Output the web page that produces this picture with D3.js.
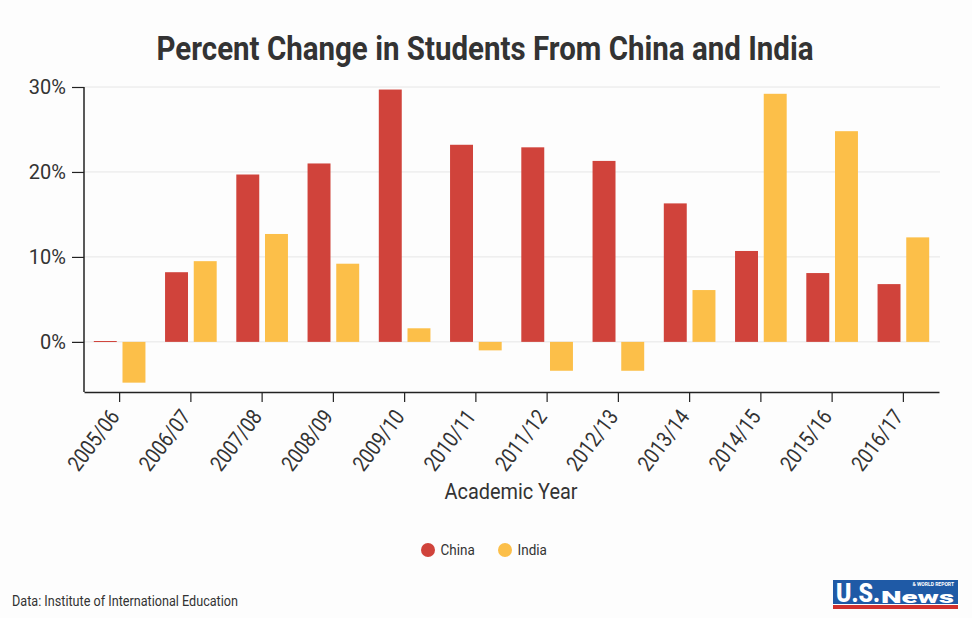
<!DOCTYPE html>
<html>
<head>
<meta charset="utf-8">
<script src="https://cdn.jsdelivr.net/npm/d3@7"></script>
<style>
  body { margin: 0; background: #fdfdfd; }
  svg { display: block; }
  text { font-family: "Roboto", sans-serif; }
</style>
</head>
<body>
<div id="chart"></div>
<script>
const years = ["2005/06", "2006/07", "2007/08", "2008/09", "2009/10", "2010/11",
  "2011/12", "2012/13", "2013/14", "2014/15", "2015/16", "2016/17"];
const series = ["China", "India"];
const china = [0.1, 8.2, 19.7, 21.0, 29.7, 23.2, 22.9, 21.3, 16.3, 10.7, 8.1, 6.8];
const india = [-4.8, 9.5, 12.7, 9.2, 1.6, -1.0, -3.4, -3.4, 6.1, 29.2, 24.8, 12.3];
const yTicks = [0, 10, 20, 30];

const width = 972, height = 618;
const colors = { China: "#d0433b", India: "#fcbf49" };

const svg = d3.select("#chart").append("svg")
  .attr("width", width)
  .attr("height", height);

svg.append("rect").attr("width", width).attr("height", height).attr("fill", "#fdfdfd");

const rows = years.map((y, i) => ({ year: y, China: china[i], India: india[i] }));

const x0 = d3.scaleBand().domain(years).range([84, 939]);
const x1 = d3.scaleBand().domain(series)
  .range([9.8, x0.bandwidth() - 9.8])
  .paddingInner(0.2);
const y = d3.scaleLinear().domain([-5.9, 30]).range([392, 87]);

// gridlines
svg.append("g")
  .selectAll("line")
  .data(yTicks)
  .join("line")
  .attr("x1", 84).attr("x2", 940)
  .attr("y1", d => y(d)).attr("y2", d => y(d))
  .attr("stroke", "#e6e6e6")
  .attr("stroke-width", 1);

// bars
svg.append("g")
  .selectAll("g")
  .data(rows)
  .join("g")
  .attr("transform", d => `translate(${x0(d.year)},0)`)
  .selectAll("rect")
  .data(d => series.map(s => ({ key: s, value: d[s] })))
  .join("rect")
  .attr("x", d => x1(d.key))
  .attr("width", x1.bandwidth())
  .attr("y", d => y(Math.max(0, d.value)))
  .attr("height", d => Math.max(1, Math.abs(y(d.value) - y(0))))
  .attr("fill", d => colors[d.key]);

// y axis
const yAxis = svg.append("g")
  .attr("transform", "translate(84,0)")
  .call(d3.axisLeft(y).tickValues(yTicks).tickSize(12).tickPadding(6).tickFormat(d => d + "%"));
yAxis.select(".domain").attr("d", `M0,${y(30)}V392`).attr("stroke", "#222").attr("stroke-width", 1.5);
yAxis.selectAll(".tick line").attr("stroke", "#222").attr("stroke-width", 1.2);
yAxis.selectAll("text")
  .attr("font-family", "Roboto, sans-serif")
  .attr("font-size", 20)
  .attr("fill", "#333");

// x axis
const xAxis = svg.append("g")
  .attr("transform", "translate(0,392)")
  .call(d3.axisBottom(x0).tickSize(10).tickSizeOuter(0));
xAxis.select(".domain").attr("stroke", "#222").attr("stroke-width", 1.5);
xAxis.selectAll(".tick line").attr("stroke", "#222").attr("stroke-width", 1.2);
xAxis.selectAll("text")
  .attr("font-family", "Roboto, sans-serif")
  .attr("font-size", 22)
  .attr("fill", "#333")
  .attr("text-anchor", "end")
  .attr("x", 0).attr("y", 0).attr("dy", 0)
  .attr("transform", "translate(1,25) rotate(-53) scale(0.84,1)");

// titles
svg.append("text")
  .attr("x", 485).attr("y", 60)
  .attr("text-anchor", "middle")
  .attr("font-family", "Roboto, sans-serif")
  .attr("font-weight", 700)
  .attr("font-size", 34)
  .attr("fill", "#333")
  .attr("textLength", 657)
  .attr("lengthAdjust", "spacingAndGlyphs")
  .text("Percent Change in Students From China and India");

svg.append("text")
  .attr("x", 511).attr("y", 499)
  .attr("text-anchor", "middle")
  .attr("font-size", 22)
  .attr("fill", "#333")
  .attr("textLength", 133)
  .attr("lengthAdjust", "spacingAndGlyphs")
  .text("Academic Year");

// legend
const legend = svg.append("g")
  .selectAll("g")
  .data(series)
  .join("g")
  .attr("transform", (d, i) => `translate(${428 + i * 77},550)`);
legend.append("circle").attr("r", 7).attr("fill", d => colors[d]);
legend.append("text")
  .attr("x", 14).attr("dy", "0.35em")
  .attr("font-size", 15)
  .attr("fill", "#333")
  .attr("transform", "scale(0.9,1)")
  .text(d => d);

// source
svg.append("text")
  .attr("x", 12).attr("y", 606)
  .attr("font-size", 15)
  .attr("fill", "#333")
  .attr("textLength", 226)
  .attr("lengthAdjust", "spacingAndGlyphs")
  .text("Data: Institute of International Education");

// logo
const logo = svg.append("g").attr("transform", "translate(833,580)");
logo.append("rect").attr("width", 125).attr("height", 24).attr("fill", "#1f5aa6");
logo.append("rect").attr("y", 25).attr("width", 125).attr("height", 4).attr("fill", "#d0312d");
logo.append("text")
  .attr("x", 3).attr("y", 22)
  .attr("font-weight", 900)
  .attr("font-size", 25)
  .attr("fill", "#fff")
  .attr("textLength", 44)
  .attr("lengthAdjust", "spacingAndGlyphs")
  .text("U.S.");
logo.append("text")
  .attr("x", 48).attr("y", 23)
  .attr("font-weight", 900)
  .attr("font-size", 17)
  .attr("fill", "#fff")
  .attr("textLength", 73)
  .attr("lengthAdjust", "spacingAndGlyphs")
  .text("News");
logo.append("text")
  .attr("x", 121).attr("y", 5.5)
  .attr("text-anchor", "end")
  .attr("font-weight", 700)
  .attr("font-size", 5)
  .attr("fill", "#fff")
  .text("& WORLD REPORT");
</script>
</body>
</html>
